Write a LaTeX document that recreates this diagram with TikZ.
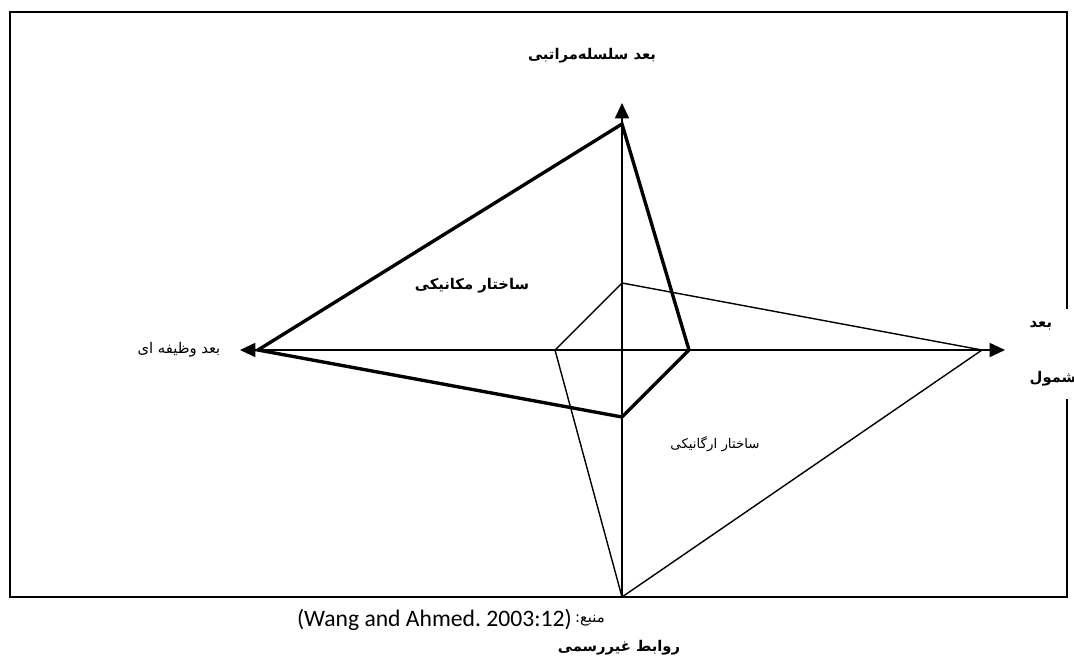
\documentclass[tikz,border=0pt]{standalone}
\usepackage{fontspec}
\usetikzlibrary{arrows.meta,positioning}
\TeXXeTstate=1
\newfontfamily\arb[Script=Arabic]{DejaVu Sans}
\newfontfamily\lat{Carlito}
\tikzstyle{axis-line} = [line width=1.4pt, {Triangle[length=11pt,width=10pt]}-{Triangle[length=11pt,width=10pt]}]
\tikzstyle{mech-line} = [line width=2.4pt, line join=miter]
\tikzstyle{org-line} = [line width=1pt]
\tikzstyle{fa-label} = [inner sep=1pt, font=\arb\fontsize{10.5}{12}\selectfont]
\tikzstyle{fa-bold} = [fa-label, font=\arb\bfseries\fontsize{10.5}{12}\selectfont]

\begin{document}
\begin{tikzpicture}[x=0.25mm, y=-0.25mm]
\useasboundingbox (0,0) rectangle (1074,659);
\draw[line width=2.1pt] (10,12) rectangle (1067,597);
% centre and corner points
\coordinate (c) at (622,350);
\coordinate (mech-top) at (622,124);
\coordinate (mech-left) at (258,350);
\coordinate (mech-bottom) at (622,417);
\coordinate (mech-right) at (689,350);
\coordinate (org-top) at (622,283);
\coordinate (org-left) at (555,350);
\coordinate (org-bottom) at (622,597);
\coordinate (org-right) at (982,350);
\coordinate (y-tip) at (622,103);
\coordinate (x-left) at (240,350);
\coordinate (x-right) at (1005,350);
% axes
\draw[line width=1.4pt, -{Triangle[length=11pt,width=10pt]}] (org-bottom) -- (y-tip);
\draw[axis-line] (x-left) -- (x-right);
% the two structures
\draw[mech-line] (mech-top) -- (mech-left) -- (mech-bottom) -- (mech-right) -- cycle;
\draw[org-line] (org-top) -- (org-left) -- (org-bottom) -- (org-right) -- cycle;
% labels
\node[fa-bold] (hier-label) at (592,56) {\beginR بعد سلسله‌مراتبی\endR};
\node[fa-label, anchor=east] (func-label) at (222,350) {\beginR بعد وظیفه ای\endR};
\node[fa-bold, fill=white, align=left, anchor=west, inner ysep=9pt] (incl-label) at (1028,354)
    {\beginR بعد\endR\\[27pt]\beginR شمول\endR};
\node[fa-bold] (mech-label) at (472,286) {\beginR ساختار مکانیکی\endR};
\node[fa-label, font=\arb\fontsize{9.5}{11}\selectfont] (org-label) at (715,444) {\beginR ساختار ارگانیکی\endR};
\node[inner sep=0pt, anchor=east, font=\lat\fontsize{16.8}{20}\selectfont] (src-label) at (572,620) {(Wang and Ahmed.\ 2003:12)};
\node[fa-label, right=1pt of src-label] (src-prefix) {\beginR منبع:\endR};
\node[fa-bold] (informal-label) at (619,648) {\beginR روابط غیررسمی\endR};
\end{tikzpicture}
\end{document}
